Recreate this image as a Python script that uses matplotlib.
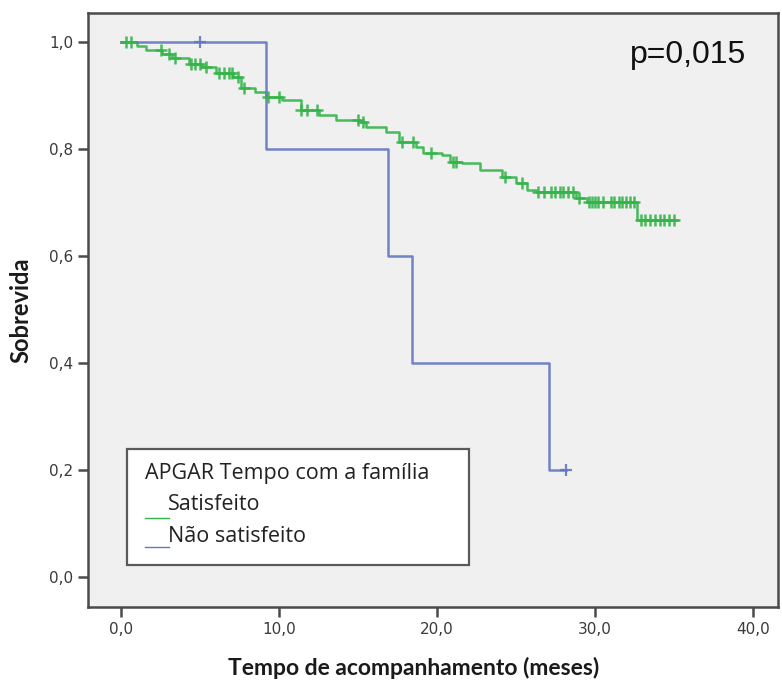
import numpy as np
import matplotlib
matplotlib.use("Agg")
import matplotlib.pyplot as plt
from matplotlib.patches import Rectangle
from matplotlib.lines import Line2D

# Kaplan-Meier estimates: event times (months) and survival after each event
sat_times = [0.0, 1.0, 1.6, 2.6, 3.2, 4.3, 5.1, 6.0, 7.1, 7.6, 8.5, 9.2, 10.2,
             11.4, 12.5, 13.6, 15.1, 15.5, 16.8, 17.6, 18.7, 19.1, 20.3, 20.8,
             21.6, 22.7, 24.1, 25.0, 25.7, 26.3, 28.8, 29.5, 32.7, 35.2]
sat_surv = [1.000, 0.992, 0.985, 0.978, 0.970, 0.959, 0.953, 0.942, 0.935,
            0.914, 0.906, 0.897, 0.891, 0.873, 0.863, 0.854, 0.850, 0.841,
            0.832, 0.813, 0.804, 0.792, 0.789, 0.776, 0.774, 0.761, 0.747,
            0.736, 0.723, 0.719, 0.708, 0.701, 0.667, 0.667]
sat_censored = [0.3, 0.6, 2.5, 3.0, 3.4, 4.4, 4.7, 5.0, 5.4, 6.2, 6.5, 6.8,
                7.0, 7.4, 7.8, 9.3, 10.0, 11.4, 11.8, 12.4, 15.0, 15.3, 17.8,
                18.5, 19.6, 21.0, 21.2, 24.3, 25.4, 26.4, 26.8, 27.2, 27.5,
                27.8, 28.0, 28.3, 28.6, 29.0, 29.6, 29.8, 30.0, 30.2, 30.5,
                31.0, 31.2, 31.5, 31.7, 32.0, 32.2, 32.5, 32.9, 33.2, 33.5,
                33.8, 34.1, 34.4, 34.7, 35.0]

nsat_times = [0.0, 9.2, 16.9, 18.4, 27.1, 28.2]
nsat_surv = [1.0, 0.8, 0.6, 0.4, 0.2, 0.2]
nsat_censored = [5.0, 28.2]

group_labels = ["Satisfeito", "Não satisfeito"]
legend_title = "APGAR Tempo com a família"
p_text = "p=0,015"
xticks = [0, 10, 20, 30, 40]
yticks = [0.0, 0.2, 0.4, 0.6, 0.8, 1.0]

green = "#35b44a"
blue = "#6376c2"
frame = "#4a4a4a"

W, H = 782, 689
fig = plt.figure(figsize=(W / 100, H / 100), dpi=100)
fig.patch.set_facecolor("white")


def fx(px):
    return px / W


def fy(py):
    return 1 - py / H


ax = fig.add_axes([fx(88), fy(607), fx(778) - fx(88), fy(13) - fy(607)])
ax.set_facecolor("#f0f0f0")
ax.set_xlim(-2.1, 41.6)
ax.set_ylim(-0.057, 1.054)


def surv_at(times, surv, t):
    idx = np.searchsorted(times, t, side="right") - 1
    return np.asarray(surv)[idx]


# survival curves
ax.step(sat_times, sat_surv, where="post", color=green, lw=1.8, alpha=0.9)
ax.step(nsat_times, nsat_surv, where="post", color=blue, lw=1.8, alpha=0.9)

# censored observations
ax.plot(sat_censored, surv_at(sat_times, sat_surv, np.array(sat_censored)),
        ls="none", marker="+", ms=9, mew=1.8, color=green, alpha=0.9)
ax.plot(nsat_censored, surv_at(nsat_times, nsat_surv, np.array(nsat_censored)),
        ls="none", marker="+", ms=9, mew=1.6, color=blue, alpha=0.9)

for s in ax.spines.values():
    s.set_color(frame)
    s.set_linewidth(1.8)

ax.set_xticks(xticks)
ax.set_xticklabels([f"{v:.1f}".replace(".", ",") for v in xticks])
ax.set_yticks(yticks)
ax.set_yticklabels([f"{v:.1f}".replace(".", ",") for v in yticks])
ax.tick_params(direction="out", length=7.5, width=1.8, color=frame,
               labelsize=11, labelcolor="#3a3a3a", pad=3)

ax.set_xlabel("Tempo de acompanhamento (meses)", fontsize=16.5,
              fontweight="bold", family="Lato", color="#1a1a1a")
ax.set_ylabel("Sobrevida", fontsize=17, fontweight="bold", family="Lato",
              color="#1a1a1a")
ax.xaxis.set_label_coords((414 - 88) / 690, -(657 - 607) / 594)
ax.yaxis.set_label_coords(-(88 - 32) / 690, (607 - 310) / 594)

# p-value annotation
fig.text(fx(630), fy(63), p_text, fontsize=23, family="Liberation Sans",
         color="#111111", va="baseline", ha="left")

# legend box
fig.patches.append(Rectangle((fx(127), fy(565)), fx(469) - fx(127),
                             fy(449) - fy(565), transform=fig.transFigure,
                             facecolor="white", edgecolor="#5a5a5a", lw=1.6,
                             zorder=5))
fig.text(fx(145), fy(473), legend_title, fontsize=15.5, family="Open Sans",
         color="#222222", va="center", ha="left", zorder=6)
for label, col, ty, ly in [(group_labels[0], green, 505, 518),
                           (group_labels[1], blue, 537, 547)]:
    fig.lines.append(Line2D([fx(145), fx(169)], [fy(ly), fy(ly)],
                            transform=fig.transFigure, color=col, lw=1.0,
                            zorder=6))
    fig.text(fx(168), fy(ty), label, fontsize=15.5, family="Open Sans",
             color="#222222", va="center", ha="left", zorder=6)

fig.savefig("out.png", dpi=100)
